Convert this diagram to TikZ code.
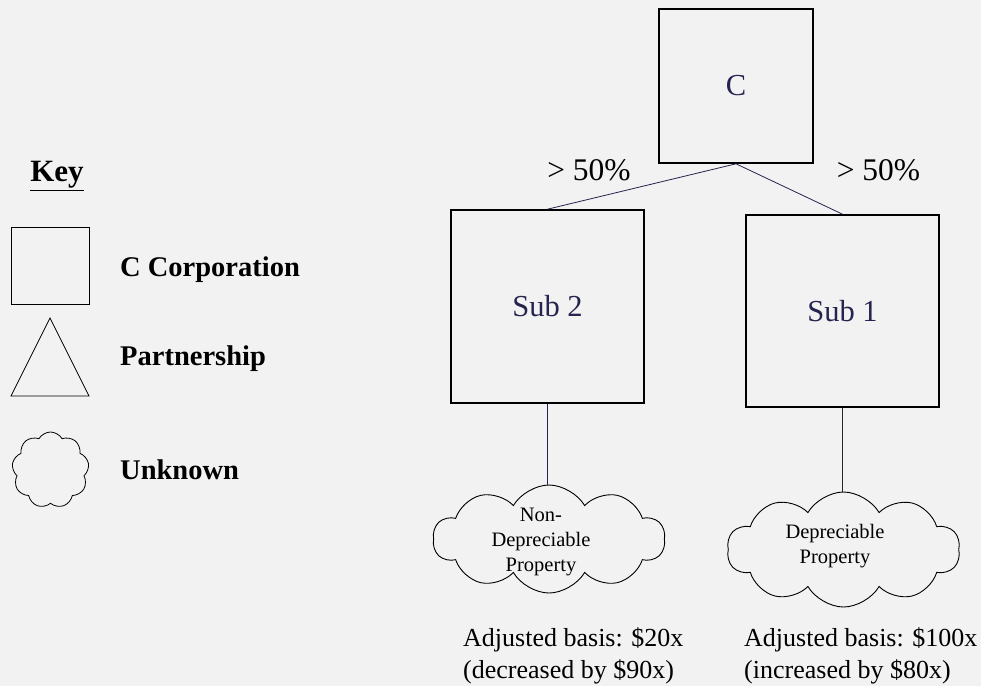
\documentclass[tikz,border=0pt]{standalone}
\usepackage{fontspec}
\setmainfont{Liberation Serif}
\usetikzlibrary{shapes.symbols,shapes.geometric}
\definecolor{bg}{HTML}{F2F2F2}
\definecolor{navy}{HTML}{24244F}
\tikzset{
  ent/.style={draw=black, line width=1.6pt, minimum width=#1, minimum height=#1, inner sep=0pt, text=navy, font=\fontsize{30.5}{34}\selectfont},
  prop/.style={cloud, draw=black, line width=0.9pt, cloud puffs=10, cloud puff arc=120, aspect=2, inner sep=0pt},
  proptxt/.style={align=center, inner sep=0pt, font=\fontsize{20.5}{25}\selectfont},
  link/.style={draw=navy, line width=0.8pt},
  lbl/.style={font=\fontsize{31.5}{34}\selectfont, inner sep=0pt},
  note/.style={font=\fontsize{26}{32.5}\selectfont, align=left, anchor=west, inner sep=0pt},
  keytxt/.style={font=\bfseries\fontsize{28.5}{32}\selectfont, anchor=west, inner sep=0pt},
}
\begin{document}
\begin{tikzpicture}[x=1pt,y=-1pt]
\fill[bg] (0,0) rectangle (981,686);
\useasboundingbox (0,0) rectangle (981,686);
% main structure
\node[ent=154pt] (c) at (736,86) {C};
\node[ent=193pt] (s2) at (547.5,306.5) {Sub 2};
\node[ent=192pt, minimum width=193pt] (s1) at (842.5,311) {Sub 1};
\draw[link] (c.south) -- (s2.north);
\draw[link] (c.south) -- (s1.north);
\node[lbl] (p2) at (589,170) {> 50\%};
\node[lbl] (p1) at (878.5,170) {> 50\%};
\node[prop, minimum width=232pt, minimum height=108pt] (cl2) at (549,539) {};
\node[prop, minimum width=233pt, minimum height=115pt] (cl1) at (843.5,549.5) {};
\node[proptxt] (ct2) at (541,542) {Non-\\Depreciable\\Property};
\node[proptxt] (ct1) at (835,546) {Depreciable\\Property};
\draw[link] (s2.south) -- (s2.south |- cl2.north);
\draw[link, draw=black!85] (s1.south) -- (s1.south |- cl1.north);
\node[note] (n2) at (463,656) {Adjusted basis: \$20x\\(decreased by \$90x)};
\node[note] (n1) at (744,656) {Adjusted basis: \$100x\\(increased by \$80x)};
% key
\node[font=\bfseries\fontsize{31}{34}\selectfont, inner sep=0pt] (key) at (57,176) {\underline{Key}};
\node[draw=black, line width=0.8pt, minimum width=78pt, minimum height=77pt, inner sep=0pt] (ksq) at (50,265.5) {};
\draw[black, line width=0.8pt] (11,396) -- (50,318) -- (89,396) -- cycle;
\node[cloud, draw=black, line width=0.8pt, cloud puffs=9, cloud puff arc=120, aspect=1, minimum width=77pt, minimum height=76pt, inner sep=0pt] (kcl) at (50.5,470) {};
\node[keytxt] (t1) at (120,270) {C Corporation};
\node[keytxt] (t2) at (120,359) {Partnership};
\node[keytxt] (t3) at (120,470) {Unknown};
\end{tikzpicture}
\end{document}
